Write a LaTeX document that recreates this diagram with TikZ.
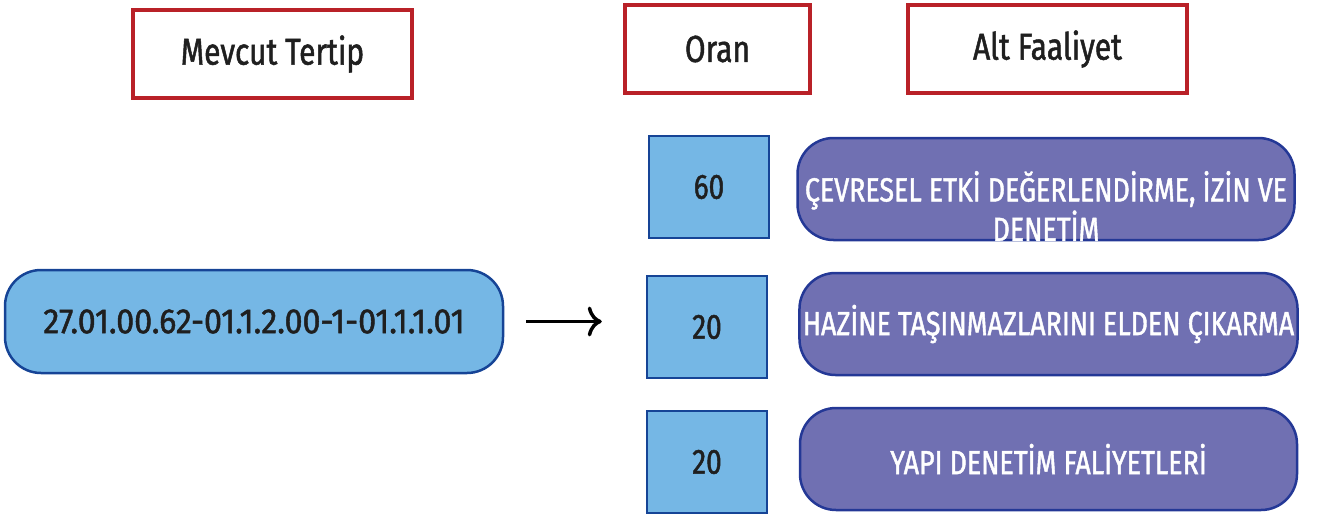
\documentclass[tikz,border=0pt]{standalone}
\usepackage{fontspec}
\setmainfont{Fira Sans}
\newfontfamily\medfont{Fira Sans}[FakeStretch=0.8,FakeBold=1.3]
\newfontfamily\codefont{Fira Sans}[FakeStretch=0.92,FakeBold=1.3]
\usetikzlibrary{arrows.meta}
\definecolor{headred}{RGB}{185,33,40}
\definecolor{boxblue}{RGB}{117,183,229}
\definecolor{edgeblue}{RGB}{22,68,150}
\definecolor{boxpurple}{RGB}{112,112,178}
\definecolor{edgepurple}{RGB}{36,56,150}

\begin{document}
\begin{tikzpicture}[x=1pt,y=-1pt,
    head/.style={draw=headred,line width=4pt,fill=white,minimum height=88pt,
        font=\medfont\fontsize{37.5}{40}\selectfont,text=black!88},
    ratio/.style={draw=edgeblue,line width=2.5pt,fill=boxblue,minimum width=120pt,
        minimum height=102pt,font=\medfont\fontsize{35}{36}\selectfont,text=black!88},
    act/.style={draw=edgepurple,line width=2.5pt,fill=boxpurple,rounded corners=36pt,
        minimum width=497pt,minimum height=102pt},
    acttext/.style={text=white,font=\medfont\fontsize{33.5}{38}\selectfont,align=center}]
    \useasboundingbox (0,0) rectangle (1321,516);

    \node[head,minimum width=279pt] (tertip) at (272.5,54) {Mevcut Tertip};
    \node[head,minimum width=185pt] (oran) at (717.5,49) {Oran};
    \node[head,minimum width=279pt] (alt) at (1047.5,49) {Alt Faaliyet};

    \node[draw=edgeblue,line width=2.5pt,fill=boxblue,rounded corners=36pt,
        minimum width=498pt,minimum height=103pt,
        font=\codefont\fontsize{35}{38}\selectfont,text=black!88] (code) at (254,321.5)
        {27.01.00.62-01.1.2.00-1-01.1.1.01};

    \node[ratio] (r1) at (709,187) {60};
    \node[ratio] (r2) at (707,327) {20};
    \node[ratio] (r3) at (707,462) {20};

    \node[act] (a1) at (1046,189) {};
    \node[acttext] (a1text) at ([yshift=-17pt]a1.center)
        {ÇEVRESEL ETKİ DEĞERLENDİRME, İZİN VE\\DENETİM};
    \node[act,acttext] (a2) at (1048.5,324) {HAZİNE TAŞINMAZLARINI ELDEN ÇIKARMA};
    \node[act,acttext] (a3) at (1048.5,459) {YAPI DENETİM FALİYETLERİ};

    \draw[line width=3.5pt,-{Computer Modern Rightarrow[length=14pt,width=30pt]},
        shorten <=22pt,shorten >=44pt] (code) -- (code-|r2.west);
\end{tikzpicture}
\end{document}
